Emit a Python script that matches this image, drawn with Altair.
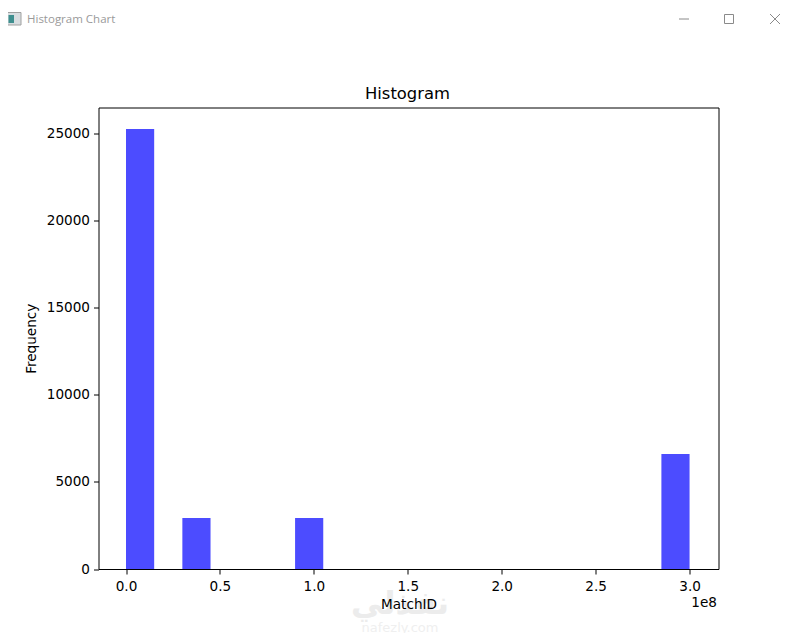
import altair as alt
import pandas as pd

bin_start = [0.0, 0.30e8, 0.90e8, 2.85e8]
bin_end = [0.15e8, 0.45e8, 1.05e8, 3.00e8]
counts = [25290, 2935, 2935, 6610]
x_ticks = [0, 0.5e8, 1.0e8, 1.5e8, 2.0e8, 2.5e8, 3.0e8]
y_ticks = [0, 5000, 10000, 15000, 20000, 25000]
FONT = "DejaVu Sans"

L, T = 98.5, 107.5  # plot origin on the page
W, H = 620, 461.5

df = pd.DataFrame({"start": bin_start, "end": bin_end, "count": counts, "base": [0, 0, 0, 0]})
one = alt.Data(values=[{}])

bars = alt.Chart(df).mark_rect(color="#0000ff", opacity=0.7).encode(
    x=alt.X("start:Q", scale=alt.Scale(domain=[-0.1464e8, 3.154e8], nice=False, zero=False),
            axis=alt.Axis(values=x_ticks, labelExpr="format(datum.value/1e8,'.1f')", title="MatchID",
                          grid=False, domain=False, tickColor="black", tickSize=5, labelColor="black",
                          labelFontSize=13.6, labelFont=FONT, labelPadding=5, titleFont=FONT,
                          titleFontSize=13.6, titleFontWeight="normal", titleColor="black",
                          titlePadding=5, labelFlush=False, labelOverlap=False, zindex=1)),
    x2="end:Q",
    y=alt.Y("count:Q", scale=alt.Scale(domain=[0, 26520], nice=False),
            axis=alt.Axis(values=y_ticks, format="d", title="Frequency", grid=False, domain=False, tickColor="black",
                          tickSize=5, labelColor="black", labelFontSize=13.6, labelFont=FONT, labelPadding=4,
                          titleFont=FONT, titleFontSize=13.6, titleFontWeight="normal", titleColor="black",
                          titlePadding=8, labelOverlap=False)),
    y2="base:Q",
)


def text(s, px, py, **kw):
    return alt.Chart(one).mark_text(text=s, **kw).encode(x=alt.value(px - L), y=alt.value(py - T))


def rule(x1, y1, x2, y2, color="#8a8a8a"):
    return alt.Chart(one).mark_rule(color=color, strokeWidth=1).encode(
        x=alt.value(x1 - L), x2=alt.value(x2 - L), y=alt.value(y1 - T), y2=alt.value(y2 - T))


def box(x1, y1, x2, y2, **kw):
    return alt.Chart(one).mark_rect(**kw).encode(
        x=alt.value(x1 - L), x2=alt.value(x2 - L), y=alt.value(y1 - T), y2=alt.value(y2 - T))


layers = [
    text("نفذلي", 400, 604, align="center", baseline="middle", font=FONT, fontSize=32, fontWeight="bold", color="#ececec"),
    text("nafezly.com", 400, 628, align="center", baseline="middle", font=FONT, fontSize=13, color="#efefef"),
    bars,
    text("Histogram", 407.5, 93.5, align="center", baseline="middle", font=FONT, fontSize=16.4, color="black"),
    text("1e8", 717, 603, align="right", baseline="middle", font=FONT, fontSize=13.6, color="black"),
    text("Histogram Chart", 27, 20, align="left", baseline="middle", font="Open Sans", fontSize=11.5, color="#9a9a9a"),
    box(6.5, 12.5, 21, 25, fill="#d8dde0", stroke="#a0a0a0"),
    box(8.5, 15, 14, 23, fill="#3f8f8f"),
    rule(679, 19, 689, 19),
    box(724.5, 14.5, 733.5, 23.5, fill="white", stroke="#8a8a8a"),
    rule(770, 14, 780, 24),
    rule(780, 14, 770, 24),
]

chart = alt.layer(*layers).properties(
    width=W, height=H,
    autosize=alt.AutoSizeParams(type="none"),
    padding={"left": L - 8, "top": T - 8, "right": 73, "bottom": 64},
    background="white",
).configure_view(stroke="black", strokeWidth=1)

chart.save("out.html", embed_options={"renderer": "svg", "actions": False})
